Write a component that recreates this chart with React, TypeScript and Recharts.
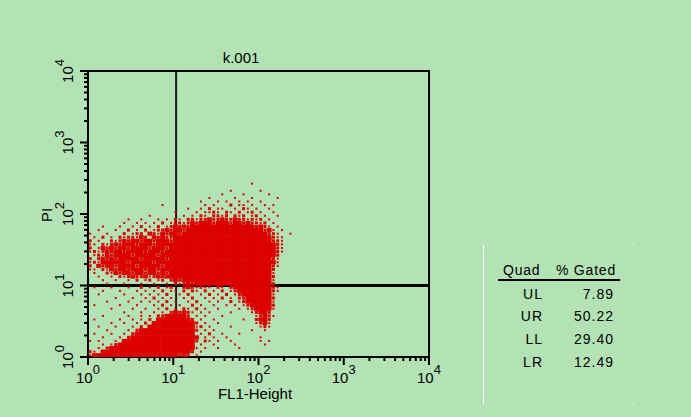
import React from 'react';
import { ScatterChart, Scatter, XAxis, YAxis, ReferenceLine, ReferenceArea } from 'recharts';

const BG = '#B3E3B5';
const DOT = '#DD0000';
const FONT = '"Liberation Sans", Arial, Helvetica, sans-serif';

const chartTitle = 'k.001';
const xAxisLabel = 'FL1-Height';
const yAxisLabel = 'PI';

const logTicks = [
  1, 2, 3, 4, 5, 6, 7, 8, 9,
  10, 20, 30, 40, 50, 60, 70, 80, 90,
  100, 200, 300, 400, 500, 600, 700, 800, 900,
  1000, 2000, 3000, 4000, 5000, 6000, 7000, 8000, 9000,
  10000,
];
const axisDomain = [1, 10000];

const gateX = 10.8;
const gateY = 10;

const quadNames = ['UL', 'UR', 'LL', 'LR'];
const quadPercents = ['7.89', '50.22', '29.40', '12.49'];

// Event density map: one cell = 1/20 decade on each axis.
// '#' dense, '+' medium, '.' single event. Top row is row 48 (from the bottom), columns from 10^0.
const CELLS_PER_DECADE = 20;
const DENSITY_TOP_ROW = 48;
const densityRows = [
  '          |          |          |        . |          ',
  '',
  '          |          |          |   .      |.         ',
  '          |          |          | .    .   |  .       ',
  '          |          |        . |    .   . |    .     ',
  '          |          |      .   |. .  . .  |.         ',
  '          |       .  |       . .|   + .. . | . .      ',
  '          |          |   .  . + |..  . +. .|  .       ',
  '          |          |.    . ..+|. +. + .+ |.  .      ',
  '          |    .     |  . . +. +|+.+ +.+ .+| .  .     ',
  '         .|  .   . . |+. ++.++#+|+#++#++.+.|+ .       ',
  '        . | . . . + .|++.+#+###+|###+##+#++|.+ .      ',
  '   .   .  |. + . + .+|#+#+######|#########+|#+. .     ',
  '  .   .  +| . + .++#+|##+#######|##########|#+#. .    ',
  '.   .   + |.++ #+.#+#|#+########|##########|##++.  .  ',
  ' . + . +.+|+.#+ #+#++|##########|##########|###+..    ',
  '+ .  +.+#+|##+##+###+|##########|##########|###++.    ',
  '.. +.+#+##|#+###+####|##########|##########|####+.    ',
  '+ .#+#+##+|####+###+#|##########|##########|####+.    ',
  '.+.+#+##+#|###+###+##|##########|##########|####+.    ',
  ' .+.#+####|+#####+###|##########|##########|####+     ',
  '+ +#+#+###|##+#####+#|##########|##########|###+.     ',
  '.+.######+|#####+####|##########|##########|####.     ',
  '+ #+##+###|#+#####+##|##########|##########|###+.     ',
  '.. +.#+##+|###+##+###|##########|##########|###+      ',
  ' .  +.#+##|+##+##+#+#|##########|##########|###.      ',
  '  .  . +.+|#++#.+#+##|##########|##########|###+      ',
  '   .  .  .| + .+ .+ +|#+########|##########|###.      ',
  '    .   . |  .  .  . |+.+#+#####|##########|###+      ',
  ' .   .   .|  + . + .+|  +#+.+.. |+. +######|###+.     ',
  '   .   .  | . . . + .|. + +. + .| + .+#####|###+.     ',
  '  .     . |  . . . + | . +  . + |. + .+####|###.      ',
  '      .   |.  . + . .|  . +  . .| + . ++###|###+      ',
  '    .    .|  . . . + |.  . +  . |.  + .+###|###.      ',
  ' .     .  | .   . + .| .  + .  .|  . . .+##|###+      ',
  '     .    |.  .  . + |. +. + .  |.    . .+#|###.      ',
  '        . |  .  . . +|#+#+. . . |   .    .+|##+       ',
  '   .     .|  . . ++##|###+ . .  | .       .|+#+.      ',
  ' .     .  |. . + ####|####+ .  .|      .  +|##+       ',
  '     .  . | . + #####|#####+ .  |.        .|+#.       ',
  '  .   .   |. + ######|#####.+ . |   .      |.+.       ',
  '    .    .| +########|#####+ . .|        . | .        ',
  ' .   .  . |+#########|##### . + | .   .    |          ',
  '   .   . +|##########|###### . .|  .       |.         ',
  '. .   . ##|##########|#####+ +. |.  .      |. .       ',
  '   . .+###|##########|##### .  .|    .     | .        ',
  '  . +#####|##########|#####. .  |.    .    |          ',
  '+. #######|##########|####+ .   |          |          ',
  '.#########|##########|#+#+ .    |          |          ',
];

type Cell = { x: number; y: number; level: string };

function buildCells(): Cell[] {
  const cells: Cell[] = [];
  densityRows.forEach((row, i) => {
    const r = DENSITY_TOP_ROW - i;
    row.split('|').forEach((group, gi) => {
      for (let k = 0; k < 10; k++) {
        const ch = group[k];
        if (ch === '#' || ch === '+' || ch === '.') {
          const c = gi * 10 + k;
          cells.push({
            x: Math.pow(10, (c + 0.5) / CELLS_PER_DECADE),
            y: Math.pow(10, (r + 0.5) / CELLS_PER_DECADE),
            level: ch,
          });
        }
      }
    });
  });
  return cells;
}

const cells = buildCells();

const DotShape = (props: any) => {
  const { cx, cy, payload } = props;
  if (cx == null || cy == null) return null;
  const lv = payload && payload.level;
  const w = lv === '#' ? 4.8 : lv === '+' ? 3 : 2;
  const h = lv === '#' ? 4.1 : lv === '+' ? 3 : 2;
  return <rect x={cx - w / 2} y={cy - h / 2} width={w} height={h} fill={DOT} />;
};

function tickInfo(v: number) {
  const lg = Math.log10(v);
  const e = Math.round(lg);
  return { e, major: Math.abs(lg - e) < 1e-9 };
}

const XTick = (props: any) => {
  const { x, y, payload } = props;
  const { e, major } = tickInfo(payload.value);
  return (
    <g>
      <line x1={x} y1={y} x2={x} y2={y + (major ? 8 : 4)} stroke="#000" strokeWidth={2} />
      {major && (
        <text x={x} y={y + 26} textAnchor="middle" fontSize={15} fontFamily={FONT} fill="#000">
          10
          <tspan dy={-9} fontSize={13}>{e}</tspan>
        </text>
      )}
    </g>
  );
};

const YTick = (props: any) => {
  const { x, y, payload } = props;
  const { e, major } = tickInfo(payload.value);
  return (
    <g>
      <line x1={x - (major ? 8 : 4)} y1={y} x2={x} y2={y} stroke="#000" strokeWidth={2} />
      {major && (
        <text
          transform={`translate(${x - 15},${y}) rotate(-90)`}
          textAnchor="middle"
          fontSize={15}
          fontFamily={FONT}
          fill="#000"
        >
          10
          <tspan dy={-9} fontSize={13}>{e}</tspan>
        </text>
      )}
    </g>
  );
};

export default function App() {
  return (
    <div
      style={{
        position: 'absolute',
        left: 0,
        top: 0,
        width: 691,
        height: 417,
        background: BG,
        overflow: 'hidden',
      }}
    >
      <ScatterChart width={691} height={417} margin={{ top: 71, right: 262, bottom: 20, left: 48 }}>
        <XAxis
          dataKey="x"
          type="number"
          scale="log"
          domain={axisDomain}
          ticks={logTicks}
          interval={0}
          allowDataOverflow
          tick={<XTick />}
          tickLine={false}
          axisLine={false}
          tickSize={0}
          tickMargin={0}
          height={40}
        />
        <YAxis
          dataKey="y"
          type="number"
          scale="log"
          domain={axisDomain}
          ticks={logTicks}
          interval={0}
          allowDataOverflow
          tick={<YTick />}
          tickLine={false}
          axisLine={false}
          tickSize={0}
          tickMargin={0}
          width={40}
        />
        <Scatter data={cells} shape={<DotShape />} isAnimationActive={false} />
        <ReferenceLine x={gateX} stroke="#1a1a1a" strokeWidth={2} />
        <ReferenceLine y={gateY} stroke="#000" strokeWidth={3} />
        <ReferenceArea x1={1} x2={10000} y1={1} y2={10000} fill="none" fillOpacity={0} stroke="#000" strokeWidth={2} />
      </ScatterChart>
      <svg
        width={691}
        height={417}
        style={{ position: 'absolute', left: 0, top: 0, pointerEvents: 'none' }}
        fontFamily={FONT}
      >
        <text x={241} y={63} textAnchor="middle" fontSize={15} fill="#000">{chartTitle}</text>
        <text transform="translate(52,215) rotate(-90)" textAnchor="middle" fontSize={15} fill="#000">{yAxisLabel}</text>
        <text x={255} y={399} textAnchor="middle" fontSize={15} fill="#000">{xAxisLabel}</text>

        <line x1={483.5} y1={245} x2={483.5} y2={404} stroke="#fff" strokeWidth={1} />
        <rect x={633} y={244} width={1} height={1} fill="#fff" />
        <rect x={633} y={403} width={1} height={1} fill="#fff" />

        <text x={503} y={275} fontSize={14} letterSpacing={0.8} fill="#000">Quad</text>
        <text x={616} y={275} textAnchor="end" fontSize={14} letterSpacing={0.8} fill="#000">% Gated</text>
        <line x1={498} y1={280} x2={620} y2={280} stroke="#000" strokeWidth={2} />
        {quadNames.map((q, i) => (
          <g key={q}>
            <text x={543} y={298.5 + i * 22.8} textAnchor="end" fontSize={14} letterSpacing={1} fill="#000">{q}</text>
            <text x={614} y={298.5 + i * 22.8} textAnchor="end" fontSize={14} letterSpacing={1} fill="#000">{quadPercents[i]}</text>
          </g>
        ))}
      </svg>
    </div>
  );
}
